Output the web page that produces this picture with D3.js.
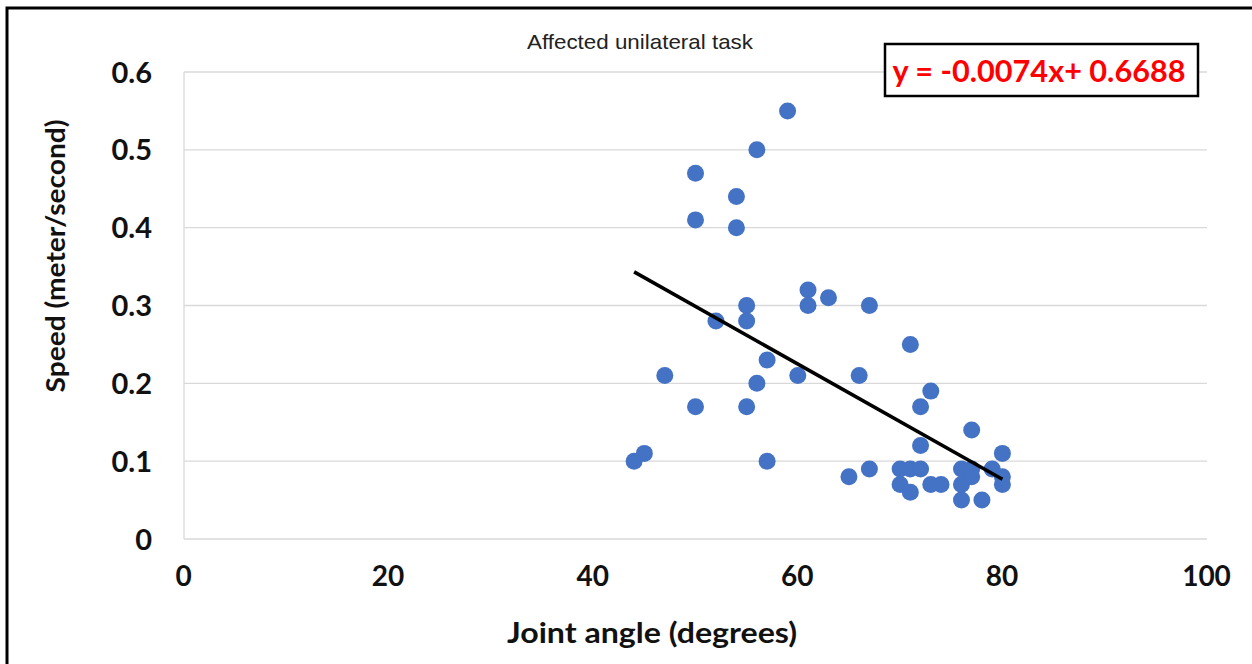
<!DOCTYPE html>
<meta charset="utf-8">
<script src="https://d3js.org/d3.v7.min.js"></script>
<style>
  body { margin: 0; background: #fff; }
  text { font-family: Lato, "Open Sans", sans-serif; }
</style>
<svg id="chart" width="1252" height="664"></svg>

<script>

// Data
const angle = [44, 45, 47, 50, 50, 50, 52, 54, 54, 55, 55, 55, 56, 56, 57, 57, 59, 60, 61, 61,
  63, 65, 66, 67, 67, 70, 70, 71, 71, 71, 72, 72, 72, 73, 73, 74, 76, 76, 76, 77,
  77, 77, 78, 79, 80, 80, 80];
const speed = [0.10, 0.11, 0.21, 0.47, 0.41, 0.17, 0.28, 0.44, 0.40, 0.30, 0.28, 0.17, 0.20, 0.50, 0.23, 0.10, 0.55, 0.21, 0.32, 0.30,
  0.31, 0.08, 0.21, 0.30, 0.09, 0.09, 0.07, 0.25, 0.09, 0.06, 0.09, 0.17, 0.12, 0.19, 0.07, 0.07, 0.09, 0.07, 0.05, 0.14,
  0.08, 0.09, 0.05, 0.09, 0.11, 0.08, 0.07];
const xTicks = [0, 20, 40, 60, 80, 100];
const yTicks = [0, 0.1, 0.2, 0.3, 0.4, 0.5, 0.6];
const slope = -0.0074, intercept = 0.6688;
const trendRange = [44, 80];

const svg = d3.select("#chart");

// outer frame (only left and top visible)
svg.append("path")
  .attr("d", "M7,664 L7,8 L1252,8")
  .attr("fill", "none")
  .attr("stroke", "black")
  .attr("stroke-width", 3);

const x = d3.scaleLinear().domain([0, 100]).range([184, 1207]);
const y = d3.scaleLinear().domain([0, 0.6]).range([539, 72]);

// gridlines
svg.append("g")
  .selectAll("line")
  .data(yTicks)
  .join("line")
  .attr("x1", x(0)).attr("x2", x(100))
  .attr("y1", d => y(d)).attr("y2", d => y(d))
  .attr("stroke", "#d9d9d9")
  .attr("stroke-width", 1.3);

svg.append("line")
  .attr("x1", x(0)).attr("x2", x(0))
  .attr("y1", y(0)).attr("y2", y(0.6))
  .attr("stroke", "#d9d9d9")
  .attr("stroke-width", 1.3);

// axes (labels only)
const yAxis = svg.append("g")
  .attr("transform", `translate(${x(0) - 32},0)`)
  .call(d3.axisLeft(y).tickValues(yTicks).tickSize(0).tickFormat(d => d === 0 ? "0" : d3.format(".1f")(d)));
yAxis.select(".domain").remove();
yAxis.selectAll("text")
  .attr("x", 0)
  .attr("dy", "0.35em")
  .style("font-family", "Lato, sans-serif")
  .style("font-size", "29px")
  .style("font-weight", "bold")
  .attr("fill", "#111");

const xAxis = svg.append("g")
  .attr("transform", `translate(-1,${y(0) + 27})`)
  .call(d3.axisBottom(x).tickValues(xTicks).tickSize(0).tickFormat(d3.format("d")));
xAxis.select(".domain").remove();
xAxis.selectAll("text")
  .attr("y", 0)
  .attr("dy", "0.71em")
  .style("font-family", "Lato, sans-serif")
  .style("font-size", "28px")
  .style("font-weight", "bold")
  .attr("fill", "#111");

// points
svg.append("g")
  .selectAll("circle")
  .data(angle.map((a, i) => [a, speed[i]]))
  .join("circle")
  .attr("cx", d => x(d[0]))
  .attr("cy", d => y(d[1]))
  .attr("r", 8.5)
  .attr("fill", "#4472c4");

// trendline on top of points
svg.append("line")
  .attr("x1", x(trendRange[0])).attr("y1", y(slope * trendRange[0] + intercept))
  .attr("x2", x(trendRange[1])).attr("y2", y(slope * trendRange[1] + intercept))
  .attr("stroke", "black")
  .attr("stroke-width", 3.5);

// title
svg.append("text")
  .attr("x", 640).attr("y", 49)
  .attr("text-anchor", "middle")
  .attr("textLength", 226)
  .attr("lengthAdjust", "spacingAndGlyphs")
  .style("font-family", "'Liberation Sans Narrow', 'Liberation Sans', sans-serif")
  .style("font-size", "21px")
  .attr("fill", "#222")
  .text("Affected unilateral task");

// axis titles
svg.append("text")
  .attr("x", 652).attr("y", 643)
  .attr("text-anchor", "middle")
  .attr("textLength", 290)
  .attr("lengthAdjust", "spacingAndGlyphs")
  .style("font-size", "29px")
  .style("font-weight", "bold")
  .attr("fill", "#111")
  .text("Joint angle (degrees)");

svg.append("text")
  .attr("transform", "translate(65,256) rotate(-90)")
  .attr("text-anchor", "middle")
  .attr("textLength", 273)
  .attr("lengthAdjust", "spacingAndGlyphs")
  .style("font-size", "27px")
  .style("font-weight", "bold")
  .attr("fill", "#111")
  .text("Speed (meter/second)");

// equation box
svg.append("rect")
  .attr("x", 885).attr("y", 44)
  .attr("width", 313).attr("height", 52)
  .attr("fill", "white")
  .attr("stroke", "black")
  .attr("stroke-width", 2.5);

svg.append("text")
  .attr("x", 1039).attr("y", 82)
  .attr("text-anchor", "middle")
  .attr("textLength", 293)
  .attr("lengthAdjust", "spacingAndGlyphs")
  .style("font-size", "31px")
  .style("font-weight", "bold")
  .attr("fill", "#ff0000")
  .text("y = -0.0074x+ 0.6688");

</script>
